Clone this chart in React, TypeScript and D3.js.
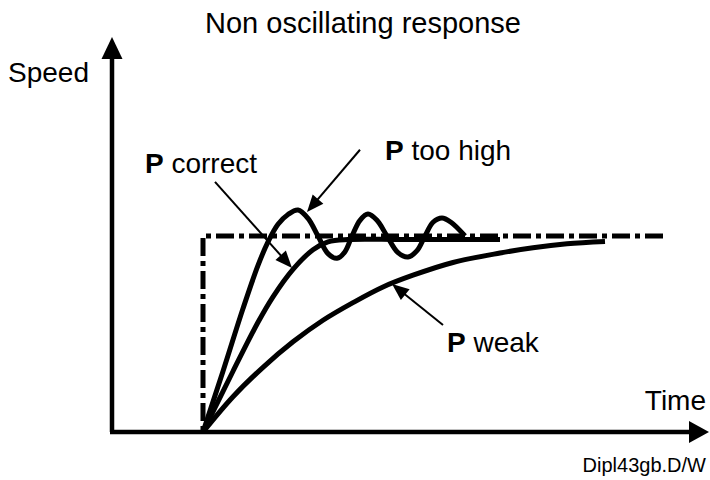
import React from "react";
import * as d3 from "d3";

type Pt = [number, number];

const title = "Non oscillating response";
const yLabel = "Speed";
const xLabel = "Time";
const footnote = "Dipl43gb.D/W";

// setpoint (step) – time, speed
const setpointTimes = [0, 0, 4.6];
const setpointValues = [0, 1, 1];

// P too high (oscillating)
const highTimes = [0, 0.2, 0.4, 0.55, 0.65, 0.75, 0.85, 0.95, 1.05, 1.15, 1.25, 1.34, 1.42, 1.49, 1.57, 1.65, 1.74, 1.84, 1.95, 2.05, 2.14, 2.22, 2.3, 2.39, 2.48, 2.62];
const highValues = [0, 0.31, 0.63, 0.85, 0.97, 1.06, 1.11, 1.133, 1.09, 1.0, 0.91, 0.886, 0.92, 1.0, 1.08, 1.112, 1.08, 1.0, 0.915, 0.893, 0.925, 1.0, 1.07, 1.092, 1.07, 1.0];

// P correct
const correctTimes = [0, 0.3, 0.55, 0.7, 0.9, 1.1, 1.25, 1.45, 2.0, 2.97];
const correctValues = [0, 0.31, 0.56, 0.69, 0.83, 0.93, 0.97, 0.982, 0.982, 0.982];

// P weak
const weakTimes = [0, 0.3, 0.6, 0.9, 1.2, 1.5, 1.8, 2.1, 2.5, 2.97, 3.3, 3.64, 4.02];
const weakValues = [0, 0.18, 0.33, 0.46, 0.57, 0.66, 0.74, 0.8, 0.865, 0.913, 0.94, 0.96, 0.972];

// annotations: label, label anchor (t, v), arrow start (t, v), arrow tip (t, v)
const annLabels = ["correct", "too high", "weak"];
const annLabelPos: Pt[] = [[-0.58, 1.32], [1.82, 1.388], [2.44, 0.41]];
const annFrom: Pt[] = [[0.12, 1.276], [1.57, 1.44], [2.4, 0.546]];
const annTo: Pt[] = [[0.89, 0.837], [1.04, 1.122], [1.89, 0.755]];

const zip = (a: number[], b: number[]): Pt[] => a.map((v, i) => [v, b[i]]);

export default function App() {
  const W = 710, H = 480;
  const x = d3.scaleLinear().domain([0, 5]).range([203, 703]);
  const y = d3.scaleLinear().domain([0, 1]).range([432, 236]);
  const line = d3.line<Pt>().x(d => x(d[0])).y(d => y(d[1])).curve(d3.curveCatmullRom.alpha(0.5));
  const straight = d3.line<Pt>().x(d => x(d[0])).y(d => y(d[1]));

  const font = "'Liberation Sans', Arial, sans-serif";
  const fs = 28;

  const axX0 = 112, axY0 = 432;

  const arrowHead = (x1: number, y1: number, x2: number, y2: number, len: number, half: number) => {
    const dx = x2 - x1, dy = y2 - y1;
    const L = Math.hypot(dx, dy);
    const ux = dx / L, uy = dy / L;
    const bx = x2 - ux * len, by = y2 - uy * len;
    return `M${x2},${y2}L${bx - uy * half},${by + ux * half}L${bx + uy * half},${by - ux * half}Z`;
  };

  return (
    <svg width={W} height={H} style={{ position: "absolute", left: 0, top: 0, background: "#fff" }}>
      <rect width={W} height={H} fill="#fff" />
      {/* axes */}
      <line x1={axX0} y1={axY0} x2={axX0} y2={56} stroke="#000" strokeWidth={4.5} />
      <path d={`M${axX0},37L${axX0 - 10.5},59L${axX0 + 10.5},59Z`} fill="#000" />
      <line x1={axX0 - 2} y1={axY0} x2={692} y2={axY0} stroke="#000" strokeWidth={4.5} />
      <path d={`M709,${axY0}L689,${axY0 - 11}L689,${axY0 + 11}Z`} fill="#000" />

      {/* setpoint */}
      <path d={straight(zip(setpointTimes, setpointValues).reverse()) || ""} fill="none" stroke="#000" strokeWidth={5}
        strokeDasharray="18,5,5,5" />

      {/* responses */}
      {[zip(weakTimes, weakValues), zip(correctTimes, correctValues), zip(highTimes, highValues)].map((d, i) => (
        <path key={i} d={line(d) || ""} fill="none" stroke="#000" strokeWidth={5} strokeLinejoin="round" />
      ))}

      {/* annotations */}
      {annLabels.map((lab, i) => {
        const x1 = x(annFrom[i][0]), y1 = y(annFrom[i][1]);
        const x2 = x(annTo[i][0]), y2 = y(annTo[i][1]);
        const L = Math.hypot(x2 - x1, y2 - y1);
        const ex = x2 - (x2 - x1) / L * 10, ey = y2 - (y2 - y1) / L * 10;
        return (
          <g key={lab}>
            <line x1={x1} y1={y1} x2={ex} y2={ey} stroke="#000" strokeWidth={2} />
            <path d={arrowHead(x1, y1, x2, y2, 17, 7)} fill="#000" />
            <text x={x(annLabelPos[i][0])} y={y(annLabelPos[i][1])} fontFamily={font} fontSize={fs}>
              <tspan fontWeight="bold">P</tspan> {lab}
            </text>
          </g>
        );
      })}

      {/* texts */}
      <text x={205} y={33} fontFamily={font} fontSize={29}>{title}</text>
      <text x={8} y={82} fontFamily={font} fontSize={fs}>{yLabel}</text>
      <text x={706} y={410} fontFamily={font} fontSize={fs} textAnchor="end">{xLabel}</text>
      <text x={706} y={472} fontFamily={font} fontSize={20} textAnchor="end">{footnote}</text>
    </svg>
  );
}
